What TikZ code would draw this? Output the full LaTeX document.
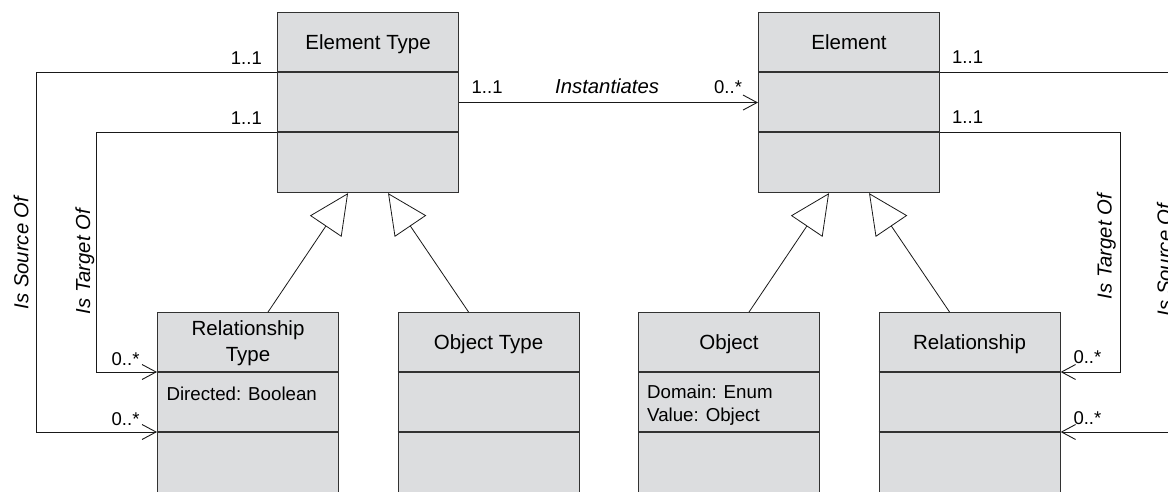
\documentclass[tikz,border=0pt]{standalone}
\usepackage{fontspec}
\setmainfont{Liberation Sans}
\usetikzlibrary{arrows.meta,calc}
\definecolor{boxfill}{RGB}{220,221,223}
\definecolor{boxline}{RGB}{50,50,50}
\definecolor{conn}{RGB}{25,25,25}
\begin{document}
\begin{tikzpicture}[x=1pt,y=-1pt,
  cls/.style={draw=boxline, fill=boxfill, line width=1.1pt, minimum width=181pt, minimum height=180pt, inner sep=0pt, anchor=north west},
  lowcls/.style={cls, minimum height=200pt},
  divider/.style={draw=boxline, line width=1.1pt},
  title/.style={font=\fontsize{20.5}{25.5}\selectfont, align=center, inner sep=0pt, anchor=base},
  attr/.style={font=\fontsize{18.7}{23.3}\selectfont, align=left, inner sep=0pt, anchor=base west},
  mult/.style={font=\fontsize{18.5}{22}\selectfont, inner sep=0pt},
  role/.style={font=\itshape\fontsize{20.3}{24}\selectfont, inner sep=0pt},
  assoc/.style={draw=conn, line width=0.9pt, -{Straight Barb[length=14pt,width=15pt]}},
  plainline/.style={draw=conn, line width=0.9pt},
  inherit/.style={draw=conn, line width=0.8pt, -{Triangle[open,length=40pt,width=38pt]}},
]
\clip (0,0) rectangle (1168,492);
\fill[white] (0,0) rectangle (1168,492);

% boxes
\node[cls] (et) at (277,12) {};
\node[cls] (el) at (758,12) {};
\node[lowcls] (rt) at (157,312) {};
\node[lowcls] (ot) at (397.5,312) {};
\node[lowcls] (ob) at (638,312) {};
\node[lowcls] (re) at (878.5,312) {};

% divider coordinates and lines
\foreach \b in {et,el,rt,ot,ob,re}{
  \coordinate (\b D1w) at ([yshift=-60pt]\b.north west);
  \coordinate (\b D1e) at ([yshift=-60pt]\b.north east);
  \coordinate (\b D2w) at ([yshift=-120pt]\b.north west);
  \coordinate (\b D2e) at ([yshift=-120pt]\b.north east);
  \draw[divider] (\b D1w) -- (\b D1e);
  \draw[divider] (\b D2w) -- (\b D2e);
}

% titles
\node[title] (etT) at ([yshift=-37.4pt]et.north) {Element Type};
\node[title] (elT) at ([yshift=-37.4pt]el.north) {Element};
\node[title] (rtT) at ([yshift=-49pt]rt.north) {Relationship\\Type};
\node[title] (otT) at ([yshift=-37.4pt]ot.north) {Object Type};
\node[title] (obT) at ([yshift=-37.4pt]ob.north) {Object};
\node[title] (reT) at ([yshift=-37.4pt]re.north) {Relationship};

% attributes
\node[attr] (rtA) at (166.3,400) {Directed: Boolean};
\node[attr] (obA) at (647,421.7) {Domain: Enum\\Value: Object};

% free ends beyond the right edge
\coordinate (srcOut) at (1185,72);
\coordinate (srcIn) at (1185,432);

% associations
\draw[assoc] (etD1w) -| ([xshift=-120.3pt]rtD2w) -- (rtD2w);
\draw[assoc] (etD2w) -| ([xshift=-60.3pt]rtD1w) -- (rtD1w);
\draw[assoc] (et.east) -- (el.west);
\draw[plainline] (elD1e) -- (srcOut);
\draw[assoc] (elD2e) -| ([xshift=60pt]reD1e) -- (reD1e);
\draw[assoc] (srcIn) -- (reD2e);

% generalisations
\draw[inherit] ([xshift=20pt]rt.north) -- ([xshift=-20pt]et.south);
\draw[inherit] ([xshift=-20pt]ot.north) -- ([xshift=20pt]et.south);
\draw[inherit] ([xshift=20pt]ob.north) -- ([xshift=-20pt]el.south);
\draw[inherit] ([xshift=-20pt]re.north) -- ([xshift=20pt]el.south);

% multiplicities
\node[mult, anchor=base east] (m1) at (262,65) {1..1};
\node[mult, anchor=base east] (m2) at (262,125) {1..1};
\node[mult, anchor=base west] (m3) at (471.5,93.3) {1..1};
\node[mult, anchor=base west] (m4) at (714,93.3) {0..*};
\node[mult, anchor=base west] (m5) at (952,63.5) {1..1};
\node[mult, anchor=base west] (m6) at (952,123.5) {1..1};
\node[mult, anchor=base west] (m7) at (111.5,365) {0..*};
\node[mult, anchor=base west] (m8) at (111.5,425) {0..*};
\node[mult, anchor=base west] (m9) at (1073.3,363.3) {0..*};
\node[mult, anchor=base west] (m10) at (1073.3,424) {0..*};

% role names
\node[role, anchor=base west] (inst) at (555,93.3) {Instantiates};
\node[role, anchor=base, rotate=90] (lsrc) at (28.3,253) {Is Source Of};
\node[role, anchor=base, rotate=90] (ltgt) at (90,261.7) {Is Target Of};
\node[role, anchor=base, rotate=90] (rtgt) at (1111.7,246.7) {Is Target Of};
\node[role, anchor=base, rotate=90] (rsrc) at (1171.5,260) {Is Source Of};
\end{tikzpicture}
\end{document}
